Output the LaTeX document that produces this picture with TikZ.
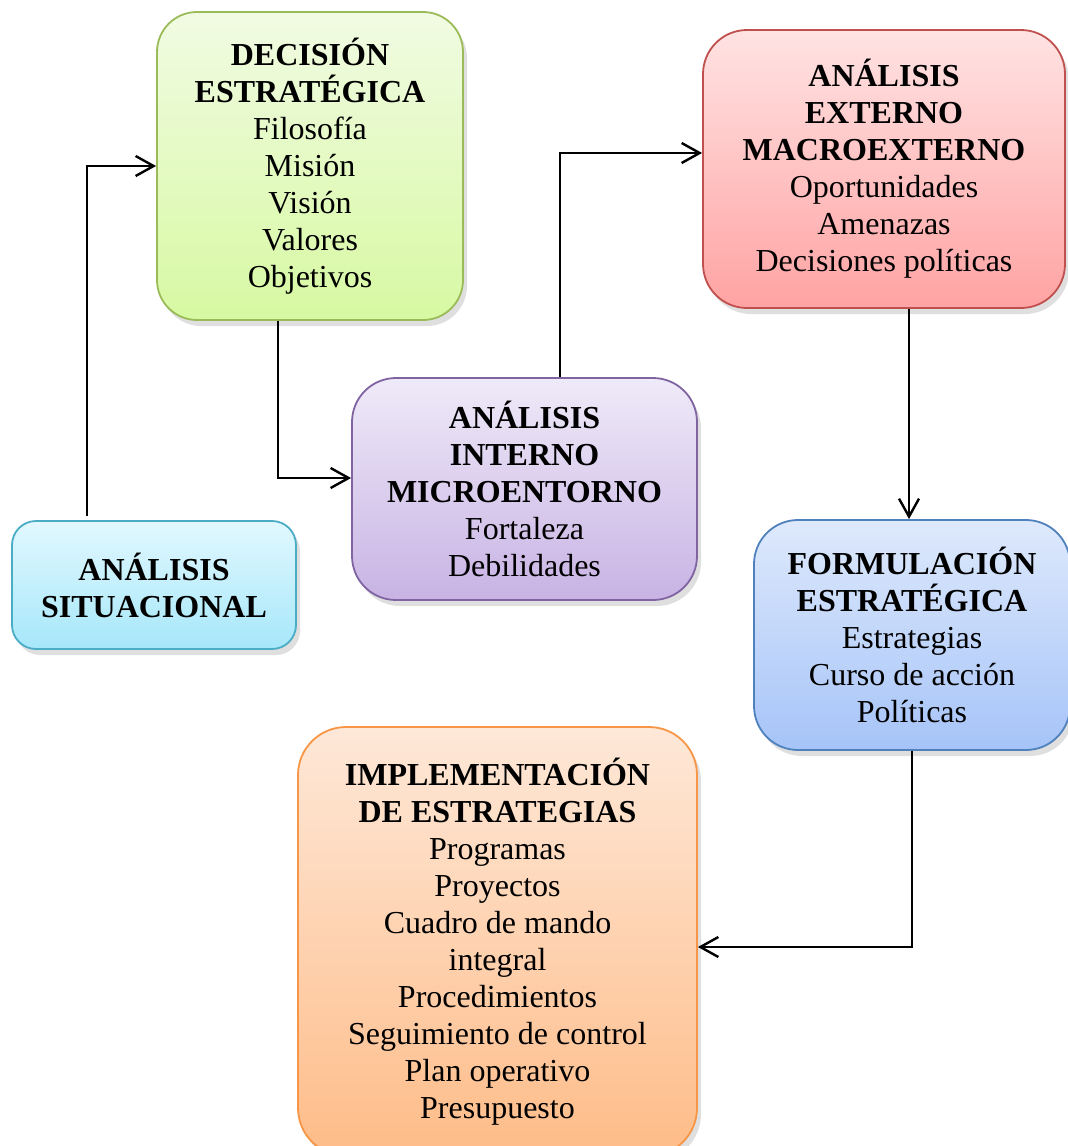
\documentclass[tikz,border=0pt]{standalone}
\usepackage{fontspec}
\setmainfont{Liberation Serif}
\usetikzlibrary{arrows.meta, shadows}

\definecolor{sitTop}{HTML}{E2F8FE}
\definecolor{sitBot}{HTML}{A6E7FA}
\definecolor{sitLine}{HTML}{4BACC6}
\definecolor{decTop}{HTML}{F1FBE3}
\definecolor{decBot}{HTML}{D7F9A2}
\definecolor{decLine}{HTML}{9BBB59}
\definecolor{extTop}{HTML}{FFE3E3}
\definecolor{extBot}{HTML}{FFA3A3}
\definecolor{extLine}{HTML}{C0504D}
\definecolor{intTop}{HTML}{EFEAF8}
\definecolor{intBot}{HTML}{C8B3E4}
\definecolor{intLine}{HTML}{8064A2}
\definecolor{formTop}{HTML}{DEE9FC}
\definecolor{formBot}{HTML}{A6C4F8}
\definecolor{formLine}{HTML}{4F81BD}
\definecolor{implTop}{HTML}{FEE8D8}
\definecolor{implBot}{HTML}{FEBC88}
\definecolor{implLine}{HTML}{F79646}

\begin{document}
\begin{tikzpicture}[x=0.5pt, y=-0.5pt, >={Straight Barb[length=9pt, width=10pt]},
  box/.style={draw, line width=0.9pt, align=center, inner sep=0pt,
    font=\fontsize{16}{18.5}\selectfont,
    drop shadow={opacity=0.25, shadow xshift=2pt, shadow yshift=-3pt}},
  conn/.style={->, line width=1.2pt}]
  \useasboundingbox (0,0) rectangle (1067,1146);

  \node[box, rounded corners=12pt, minimum width=142pt, minimum height=64pt,
        top color=sitTop, bottom color=sitBot, draw=sitLine] (sit) at (154,585)
        {\textbf{ANÁLISIS}\\\textbf{SITUACIONAL}};
  \node[box, rounded corners=20pt, minimum width=153pt, minimum height=154pt,
        top color=decTop, bottom color=decBot, draw=decLine] (dec) at (310,166)
        {\textbf{DECISIÓN}\\\textbf{ESTRATÉGICA}\\Filosofía\\Misión\\Visión\\Valores\\Objetivos};
  \node[box, rounded corners=22pt, minimum width=172.5pt, minimum height=111pt,
        top color=intTop, bottom color=intBot, draw=intLine] (int) at (524.5,489)
        {\textbf{ANÁLISIS}\\\textbf{INTERNO}\\\textbf{MICROENTORNO}\\Fortaleza\\Debilidades};
  \node[box, rounded corners=22pt, minimum width=181pt, minimum height=139pt,
        top color=extTop, bottom color=extBot, draw=extLine] (ext) at (884,169)
        {\textbf{ANÁLISIS}\\\textbf{EXTERNO}\\\textbf{MACROEXTERNO}\\Oportunidades\\Amenazas\\Decisiones políticas};
  \node[box, rounded corners=22pt, minimum width=158pt, minimum height=115pt,
        top color=formTop, bottom color=formBot, draw=formLine] (form) at (912,635)
        {\textbf{FORMULACIÓN}\\\textbf{ESTRATÉGICA}\\Estrategias\\Curso de acción\\Políticas};
  \node[box, rounded corners=24pt, minimum width=199.5pt, minimum height=214.5pt,
        top color=implTop, bottom color=implBot, draw=implLine] (impl) at (497.5,941.5)
        {\textbf{IMPLEMENTACIÓN}\\\textbf{DE ESTRATEGIAS}\\Programas\\Proyectos\\Cuadro de mando\\integral\\Procedimientos\\Seguimiento de control\\Plan operativo\\Presupuesto};

  % connectors
  \draw[conn] ([xshift=-33.5pt, yshift=2pt]sit.north) |- (dec);
  \draw[conn] ([xshift=-16pt]dec.south) |- ([yshift=5.5pt]int.west);
  \draw[conn] ([xshift=17.75pt]int.north) |- ([yshift=8pt]ext.west);
  \draw[conn] ([xshift=12.5pt]ext.south) -- ([xshift=-1.5pt]form.north);
  \draw[conn] (form.south) |- ([yshift=-2.75pt]impl.east);
\end{tikzpicture}
\end{document}
